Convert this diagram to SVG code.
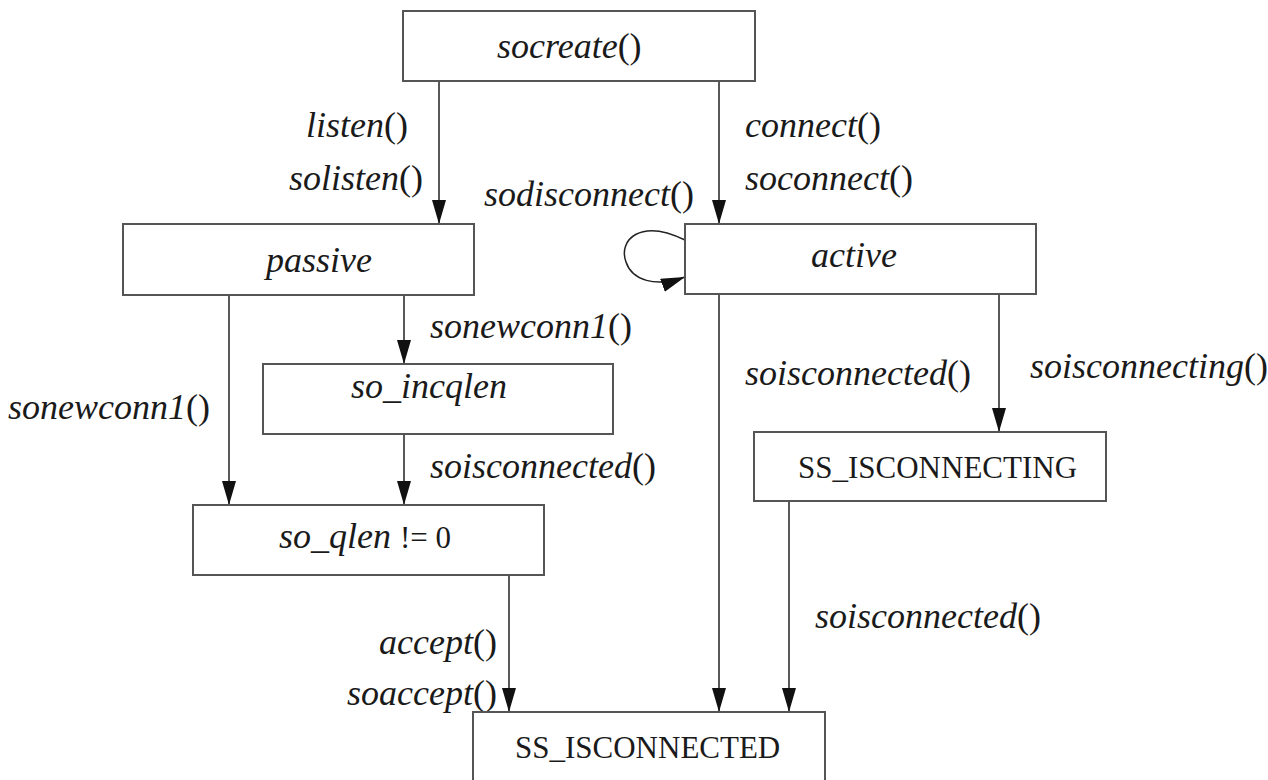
<svg xmlns="http://www.w3.org/2000/svg" width="1268" height="780" viewBox="0 0 1268 780">
<style>
.box{fill:#fff;stroke:#555;stroke-width:2}
.ln{fill:none;stroke:#222;stroke-width:1.5}
text{font-family:"Liberation Serif","Times New Roman",serif;fill:#1a1a1a}
.it{font-style:italic;font-size:36px}
.up{font-style:normal;font-size:31px}
.p{font-style:normal}
</style>
<defs>
<marker id="ah" markerUnits="userSpaceOnUse" markerWidth="26" markerHeight="16" refX="24" refY="7" orient="auto">
<path d="M0,0 L24,7 L0,14 z" fill="#111"/>
</marker>
</defs>
<rect width="1268" height="780" fill="#fff"/>
<g id="connectors">
<path class="ln" d="M439,81 V224" marker-end="url(#ah)"/>
<path class="ln" d="M719,81 V224" marker-end="url(#ah)"/>
<path class="ln" d="M229,295 V505" marker-end="url(#ah)"/>
<path class="ln" d="M404,295 V364" marker-end="url(#ah)"/>
<path class="ln" d="M404,434 V505" marker-end="url(#ah)"/>
<path class="ln" d="M509,575 V712" marker-end="url(#ah)"/>
<path class="ln" d="M719,294 V712" marker-end="url(#ah)"/>
<path class="ln" d="M999,294 V432" marker-end="url(#ah)"/>
<path class="ln" d="M789,501 V712" marker-end="url(#ah)"/>
<path class="ln" d="M685,240 C640,218 618,240 626,262 C632,280 655,288 685,277" marker-end="url(#ah)"/>
<text class="it" x="306" y="137">listen<tspan class="p">()</tspan></text>
<text class="it" x="289" y="190">solisten<tspan class="p">()</tspan></text>
<text class="it" x="745" y="137">connect<tspan class="p">()</tspan></text>
<text class="it" x="745" y="190">soconnect<tspan class="p">()</tspan></text>
<text class="it" x="484" y="206">sodisconnect<tspan class="p">()</tspan></text>
<text class="it" x="430" y="338">sonewconn1<tspan class="p">()</tspan></text>
<text class="it" x="8" y="419">sonewconn1<tspan class="p">()</tspan></text>
<text class="it" x="745" y="385">soisconnected<tspan class="p">()</tspan></text>
<text class="it" x="1030" y="378">soisconnecting<tspan class="p">()</tspan></text>
<text class="it" x="430" y="478">soisconnected<tspan class="p">()</tspan></text>
<text class="it" x="497" y="654" text-anchor="end">accept<tspan class="p">()</tspan></text>
<text class="it" x="497" y="705" text-anchor="end">soaccept<tspan class="p">()</tspan></text>
<text class="it" x="815" y="628">soisconnected<tspan class="p">()</tspan></text>
</g>
<g id="socreate"><rect class="box" x="403" y="11" width="352" height="70"/><text class="it" x="497" y="58">socreate<tspan class="p">()</tspan></text></g>
<g id="passive"><rect class="box" x="123" y="224" width="351" height="71"/><text class="it" x="266" y="272">passive</text></g>
<g id="active"><rect class="box" x="685" y="224" width="351" height="70"/><text class="it" x="811" y="267">active</text></g>
<g id="so_incqlen"><rect class="box" x="263" y="364" width="350" height="70"/><text class="it" x="351" y="398">so_incqlen</text></g>
<g id="so_qlen"><rect class="box" x="193" y="505" width="351" height="70"/><text class="it" x="279" y="548">so_qlen <tspan class="up">!= 0</tspan></text></g>
<g id="ss_isconnecting"><rect class="box" x="754" y="432" width="352" height="69"/><text class="up" x="798" y="478">SS_ISCONNECTING</text></g>
<g id="ss_isconnected"><rect class="box" x="473" y="712" width="352" height="100"/><text class="up" x="515" y="758">SS_ISCONNECTED</text></g>
</svg>
